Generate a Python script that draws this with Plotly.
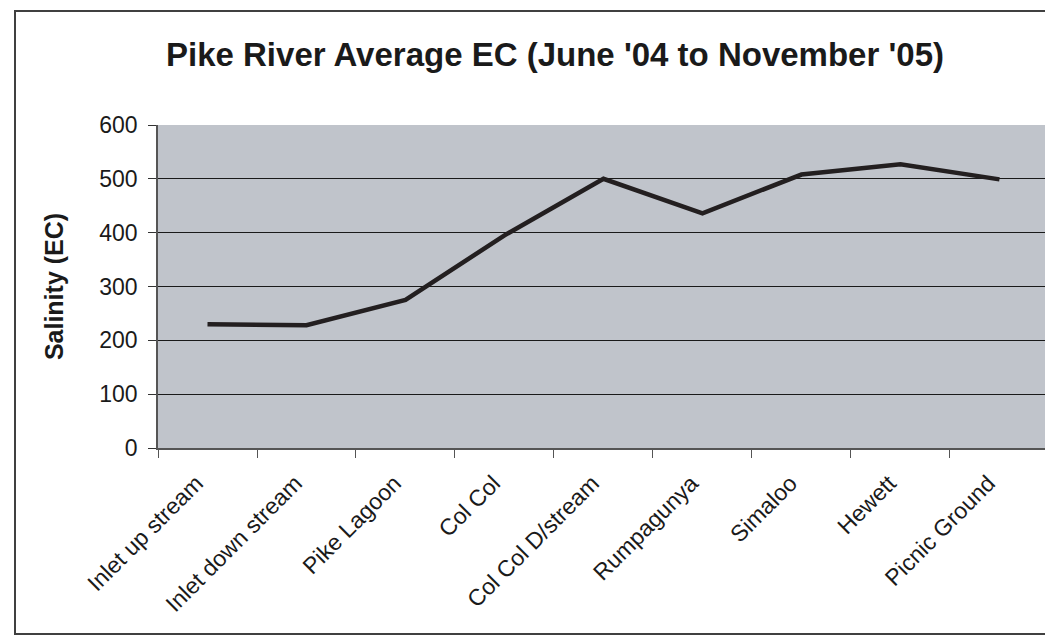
import plotly.graph_objects as go

# Sampling sites along the Pike River, upstream to downstream
sites = ["Inlet up stream", "Inlet down stream", "Pike Lagoon", "Col Col",
         "Col Col D/stream", "Rumpagunya", "Simaloo", "Hewett", "Picnic Ground"]
# Average electrical conductivity at each site (EC units)
avg_ec = [230, 228, 275, 395, 500, 436, 508, 527, 499]
y_ticks = [0, 100, 200, 300, 400, 500, 600]

# Plot area geometry in pixels (used to place elements in paper coords)
W, H = 1045, 635
L, R, T, B = 158, 1045, 125, 448
pw, ph = R - L, B - T


def px(x):
    return (x - L) / pw


def py(y):
    return (B - y) / ph


fig = go.Figure()
fig.add_trace(go.Scatter(
    x=sites, y=avg_ec, mode="lines",
    line=dict(color="#231F20", width=4.5),
    showlegend=False, hoverinfo="x+y",
))

fig.update_layout(
    width=W, height=H,
    margin=dict(l=L, r=W - R, t=T, b=H - B, pad=0),
    paper_bgcolor="white",
    plot_bgcolor="#C0C4CB",
    font=dict(family="Liberation Sans, Arial, sans-serif", color="#1a1a1a"),
    title=dict(
        text="<b>Pike River Average EC (June '04 to November '05)</b>",
        x=555 / W, xref="container", xanchor="center",
        y=1 - 54 / H, yref="container", yanchor="middle",
        font=dict(size=33, color="#1a1a1a"),
    ),
    xaxis=dict(
        type="category",
        range=[-0.5, 8.46],
        tickson="boundaries",
        ticks="outside", ticklen=8, tickwidth=1.3, tickcolor="#555555",
        showline=True, linecolor="#555555", linewidth=1.5,
        showgrid=False, zeroline=False,
        tickangle=-45,
        ticklabelstandoff=11,
        ticklabelshift=-11,
        tickfont=dict(size=23, color="#1a1a1a"),
    ),
    yaxis=dict(
        range=[0, 600],
        tickvals=y_ticks,
        ticks="outside", ticklen=8, tickwidth=1.3, tickcolor="#333333",
        showline=True, linecolor="#555555", linewidth=1.5,
        showgrid=True, gridcolor="#1a1a1a", gridwidth=1,
        zeroline=False,
        ticklabelstandoff=6,
        tickfont=dict(size=23, color="#1a1a1a"),
        title=dict(text="<b>Salinity (EC)</b>", font=dict(size=25, color="#1a1a1a"),
                   standoff=29),
    ),
    shapes=[
        # chart frame
        dict(type="rect", xref="paper", yref="paper",
             x0=px(15), x1=px(1100), y0=py(634), y1=py(11),
             line=dict(color="#404040", width=2), fillcolor="rgba(0,0,0,0)",
             layer="below"),
    ],
)

fig.write_html("out.html")
